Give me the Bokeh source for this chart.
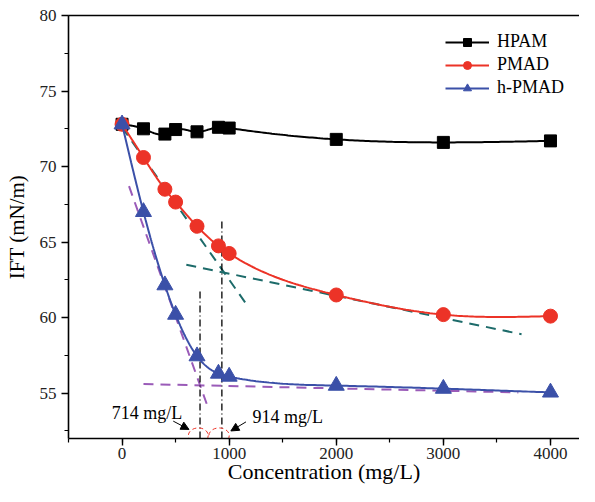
import numpy as np
from bokeh.plotting import figure
from bokeh.models import (LinearAxis, SingleIntervalTicker, FixedTicker, Range1d, Legend, LegendItem,
                          Arrow, NormalHead, Label, ColumnDataSource)
from bokeh.embed import file_html
from bokeh.resources import INLINE

# ---------------- data ----------------
conc = [0, 200, 400, 500, 700, 900, 1000, 2000, 3000, 4000]
hpam = [72.8, 72.5, 72.15, 72.45, 72.3, 72.6, 72.55, 71.8, 71.6, 71.7]
pmad = [72.8, 70.6, 68.5, 67.65, 66.05, 64.75, 64.25, 61.5, 60.2, 60.1]
hpmad = [72.8, 67.0, 62.15, 60.2, 57.45, 56.3, 56.1, 55.5, 55.3, 55.05]

# tangent (dashed) lines: start/end points
pmad_tan1_x = [0, 1150]
pmad_tan1_y = [72.6, 61.0]
pmad_tan2_x = [600, 3730]
pmad_tan2_y = [63.5, 58.9]
hpmad_tan1_x = [65, 795]
hpmad_tan1_y = [68.7, 54.2]
hpmad_tan2_x = [200, 3700]
hpmad_tan2_y = [55.6, 55.05]

# vertical dash-dot markers
cmc_x = [728, 932]
cmc_top = [61.75, 66.5]
cmc_bottom = [52.0, 52.0]
cmc_labels = ["714 mg/L", "914 mg/L"]
cmc_label_x = [562, 1218]
cmc_label_y = [53.7, 53.4]

# red dashed ellipses
ell_x = [712, 906]
ell_y = [52.2, 52.2]
ell_w = [185, 190]
ell_h = [1.0, 1.0]

# arrows
arr_x0 = [478, 1157]
arr_y0 = [53.15, 53.1]
arr_x1 = [625, 1016]
arr_y1 = [52.6, 52.5]

x_ticks_interval = 1000
y_ticks_interval = 5

FONT = "'Liberation Serif', 'Times New Roman', serif"
BLACK = "#000000"
RED = "#ec3327"
BLUE = "#3b50a8"
TEAL = "#1d6b6a"
PURPLE = "#9a5bb8"


def spline(xs, ys, per_seg=40):
    x = np.asarray(xs, float)
    y = np.asarray(ys, float)
    n = len(x)
    h = np.diff(x)
    A = np.zeros((n, n))
    b = np.zeros(n)
    A[0, 0] = 1.0
    A[-1, -1] = 1.0
    for i in range(1, n - 1):
        A[i, i - 1] = h[i - 1]
        A[i, i] = 2 * (h[i - 1] + h[i])
        A[i, i + 1] = h[i]
        b[i] = 6 * ((y[i + 1] - y[i]) / h[i] - (y[i] - y[i - 1]) / h[i - 1])
    M = np.linalg.solve(A, b)
    xx, yy = [], []
    for i in range(n - 1):
        t = np.linspace(x[i], x[i + 1], per_seg, endpoint=(i == n - 2))
        hi = h[i]
        v = (M[i] * (x[i + 1] - t) ** 3 / (6 * hi) + M[i + 1] * (t - x[i]) ** 3 / (6 * hi)
             + (y[i] / hi - M[i] * hi / 6) * (x[i + 1] - t)
             + (y[i + 1] / hi - M[i + 1] * hi / 6) * (t - x[i]))
        xx.extend(t.tolist())
        yy.extend(v.tolist())
    return xx, yy


p = figure(width=579, height=486,
           x_range=Range1d(-500, 4271), y_range=Range1d(52, 80),
           output_backend="svg", toolbar_location=None,
           min_border_left=68, min_border_top=15, min_border_right=0, min_border_bottom=10)
p.outline_line_color = None
p.xgrid.visible = False
p.ygrid.visible = False
p.background_fill_color = "white"

# axes styling
for ax in (p.xaxis[0], p.yaxis[0]):
    ax.axis_line_width = 1.6
    ax.axis_line_color = BLACK
    ax.major_tick_line_color = BLACK
    ax.minor_tick_line_color = BLACK
    ax.major_tick_line_width = 1.4
    ax.minor_tick_line_width = 1.2
    ax.major_tick_out = 7
    ax.major_tick_in = 0
    ax.minor_tick_out = 4
    ax.minor_tick_in = 0
    ax.major_label_text_font = FONT
    ax.major_label_text_font_size = "17px"
    ax.major_label_text_color = "#222222"
    ax.axis_label_text_font = FONT
    ax.axis_label_text_font_style = "normal"
    ax.axis_label_text_color = BLACK

p.xaxis[0].ticker = SingleIntervalTicker(interval=x_ticks_interval, num_minor_ticks=2)
p.yaxis[0].ticker = SingleIntervalTicker(interval=y_ticks_interval, num_minor_ticks=2)
p.xaxis[0].axis_label = "Concentration (mg/L)"
p.yaxis[0].axis_label = "IFT (mN/m)"
p.xaxis[0].axis_label_text_font_size = "22px"
p.yaxis[0].axis_label_text_font_size = "21px"
p.xaxis[0].major_label_standoff = 2
p.xaxis[0].axis_label_standoff = -3
p.yaxis[0].major_label_standoff = 5
p.yaxis[0].axis_label_standoff = 8

top_axis = LinearAxis(ticker=FixedTicker(ticks=[]), axis_line_width=1.6, axis_line_color=BLACK,
                      major_tick_line_color=None, minor_tick_line_color=None,
                      major_label_standoff=0)
p.add_layout(top_axis, "above")

# tangent lines
p.line(pmad_tan1_x, pmad_tan1_y, line_color=TEAL, line_width=2, line_dash="10 7")
p.line(pmad_tan2_x, pmad_tan2_y, line_color=TEAL, line_width=2, line_dash="10 7")
p.line(hpmad_tan1_x, hpmad_tan1_y, line_color=PURPLE, line_width=2, line_dash="10 7")
p.line(hpmad_tan2_x, hpmad_tan2_y, line_color=PURPLE, line_width=2, line_dash="10 7")

# vertical dash-dot lines
p.segment(x0=cmc_x, y0=cmc_bottom, x1=cmc_x, y1=cmc_top, line_color=BLACK,
          line_width=1.3, line_dash="7 3 1 3")

# ellipses
p.ellipse(x=ell_x, y=ell_y, width=ell_w, height=ell_h, fill_color=None,
          line_color=RED, line_width=1, line_dash="4 3")

# curves and markers
sx, sy = spline(conc, hpam)
l1 = p.line(sx, sy, line_color=BLACK, line_width=2)
m1 = p.scatter(conc, hpam, marker="square", size=12, fill_color=BLACK, line_color=BLACK)

sx, sy = spline(conc, pmad)
l2 = p.line(sx, sy, line_color=RED, line_width=2)
m2 = p.scatter(conc, pmad, marker="circle", size=14, fill_color=RED, line_color=RED)

sx, sy = spline(conc, hpmad)
l3 = p.line(sx, sy, line_color=BLUE, line_width=2)
m3 = p.scatter(conc, hpmad, marker="triangle", size=16, fill_color=BLUE, line_color=BLUE)

# arrows
arr_src = ColumnDataSource(dict(x0=arr_x0, y0=arr_y0, x1=arr_x1, y1=arr_y1))
p.add_layout(Arrow(end=NormalHead(size=8, fill_color=BLACK, line_color=BLACK, line_width=1),
                   source=arr_src, x_start="x0", y_start="y0", x_end="x1", y_end="y1",
                   line_color=BLACK, line_width=1))

# annotation labels
p.add_layout(Label(x=cmc_label_x[0], y=cmc_label_y[0], text=cmc_labels[0], text_align="right",
                   text_baseline="middle", text_font=FONT, text_font_size="18px", text_color=BLACK))
p.add_layout(Label(x=cmc_label_x[1], y=cmc_label_y[1], text=cmc_labels[1], text_align="left",
                   text_baseline="middle", text_font=FONT, text_font_size="18px", text_color=BLACK))

legend = Legend(items=[LegendItem(label="HPAM", renderers=[l1, m1]),
                       LegendItem(label="PMAD", renderers=[l2, m2]),
                       LegendItem(label="h-PMAD", renderers=[l3, m3])],
                location=(377, 340), padding=0, margin=0, spacing=2,
                glyph_width=44, glyph_height=20, label_height=20, label_standoff=8,
                border_line_color=None, background_fill_alpha=0,
                label_text_font=FONT, label_text_font_size="18px", label_text_color=BLACK)
p.add_layout(legend, "center")

open("out.html", "w").write(file_html(p, INLINE))
